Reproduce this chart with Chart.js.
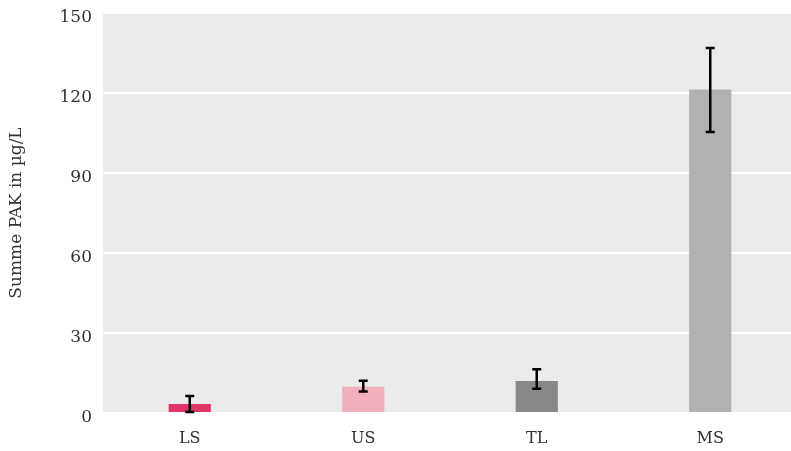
<!DOCTYPE html>
<html>
<head>
<meta charset="utf-8">
<script src="https://cdn.jsdelivr.net/npm/chart.js@4"></script>
<style>
  html, body { margin: 0; padding: 0; background: #fff; overflow: hidden; }
  #wrap { width: 797px; height: 451px; }
</style>
</head>
<body>
<div id="wrap"><canvas id="chart"></canvas></div>
<script>
const categories = ['LS', 'US', 'TL', 'MS'];
const means = [3.4, 9.8, 12.0, 121.3];
const lower = [0.4, 8.1, 9.1, 105.4];
const upper = [6.4, 12.1, 16.4, 136.9];
const barColors = ['#de3569', '#f0afbb', '#878787', '#b1b1b2'];
const yTicks = [0, 30, 60, 90, 120, 150];

const panelBg = {
    id: 'panelBg',
    beforeDraw(chart) {
        const { ctx, chartArea: a } = chart;
        ctx.save();
        ctx.fillStyle = '#ebebeb';
        ctx.fillRect(a.left, a.top, a.right - a.left, a.bottom - a.top);
        ctx.restore();
    }
};

const errorBars = {
    id: 'errorBars',
    afterDatasetsDraw(chart) {
        const { ctx } = chart;
        const y = chart.scales.y;
        const meta = chart.getDatasetMeta(0);
        ctx.save();
        ctx.strokeStyle = '#000';
        ctx.lineWidth = 2.5;
        meta.data.forEach((bar, i) => {
            const yLo = y.getPixelForValue(lower[i]);
            const yHi = y.getPixelForValue(upper[i]);
            const x = bar.x;
            ctx.beginPath();
            ctx.moveTo(x, yLo); ctx.lineTo(x, yHi);
            ctx.moveTo(x - 4.5, yLo); ctx.lineTo(x + 4.5, yLo);
            ctx.moveTo(x - 4.5, yHi); ctx.lineTo(x + 4.5, yHi);
            ctx.stroke();
        });
        ctx.restore();
    }
};

new Chart(document.getElementById('chart'), {
    type: 'bar',
    data: {
        labels: categories,
        datasets: [{
            data: means,
            backgroundColor: barColors,
            borderWidth: 0,
            barPercentage: 0.243,
            categoryPercentage: 1.0
        }]
    },
    options: {
        responsive: true,
        maintainAspectRatio: false,
        animation: false,
        layout: { padding: { top: 13, right: 0, bottom: 0, left: 0 } },
        plugins: { legend: { display: false }, tooltip: { enabled: false } },
        scales: {
            x: {
                grid: { display: false, drawTicks: false },
                border: { display: false },
                ticks: { color: '#333', padding: 16, font: { family: 'DejaVu Serif', size: 16 } },
                afterFit: (s) => { s.height = 38; s.paddingLeft = 0; s.paddingRight = 0; }
            },
            y: {
                min: 0, max: 150,
                afterBuildTicks: (s) => { s.ticks = yTicks.map(v => ({ value: v })); },
                grid: { color: '#ffffff', lineWidth: 2, drawTicks: false },
                border: { display: false },
                ticks: { color: '#333', padding: 11, labelOffset: 5, font: { family: 'DejaVu Serif', size: 17 } },
                title: {
                    display: true,
                    text: 'Summe PAK in µg/L',
                    color: '#333',
                    font: { family: 'DejaVu Serif', size: 17 },
                    padding: { top: 6, bottom: 0 }
                },
                afterFit: (s) => { s.width = 103; s.paddingTop = 0; s.paddingBottom = 0; }
            }
        }
    },
    plugins: [panelBg, errorBars]
});
</script>
</body>
</html>
